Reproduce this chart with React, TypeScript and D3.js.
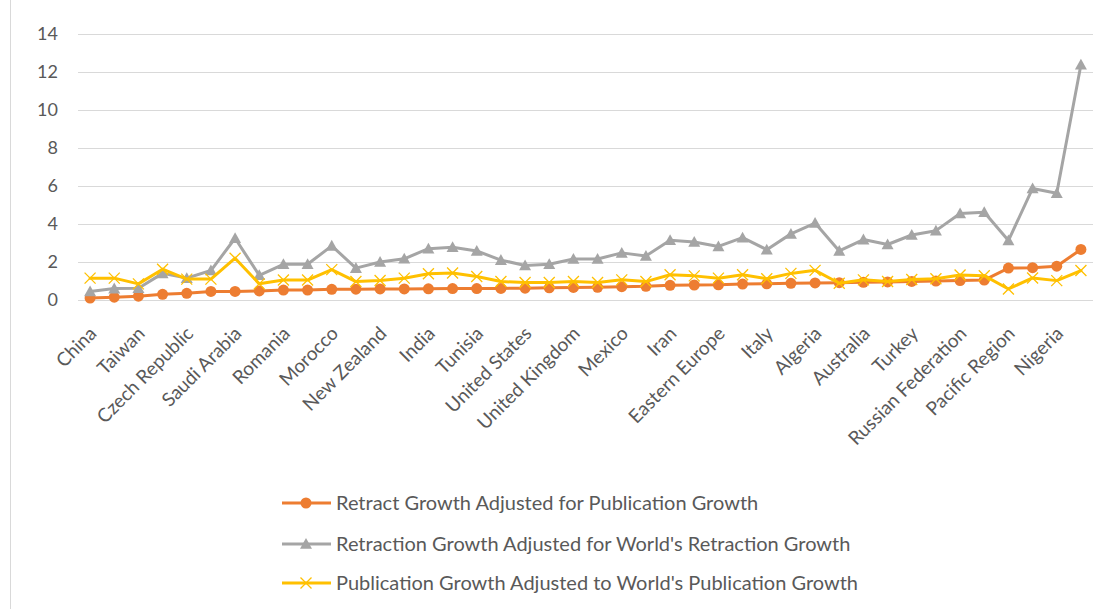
import React from "react";
import * as d3 from "d3";

const categories: string[] = [
  "China", "", "Taiwan", "", "Czech Republic", "", "Saudi Arabia", "", "Romania", "",
  "Morocco", "", "New Zealand", "", "India", "", "Tunisia", "", "United States", "",
  "United Kingdom", "", "Mexico", "", "Iran", "", "Eastern Europe", "", "Italy", "",
  "Algeria", "", "Australia", "", "Turkey", "", "Russian Federation", "", "Pacific Region", "",
  "Nigeria", "",
];

const retractAdjPub: number[] = [
  0.1, 0.15, 0.2, 0.3, 0.35, 0.45, 0.45, 0.48, 0.52, 0.52,
  0.56, 0.57, 0.58, 0.58, 0.59, 0.6, 0.6, 0.61, 0.62, 0.64,
  0.66, 0.67, 0.7, 0.72, 0.77, 0.79, 0.8, 0.84, 0.85, 0.88,
  0.9, 0.91, 0.93, 0.95, 0.98, 1.0, 1.02, 1.05, 1.68, 1.7,
  1.78, 2.66,
];

const retractAdjWorld: number[] = [
  0.45, 0.6, 0.62, 1.4, 1.15, 1.55, 3.25, 1.3, 1.88, 1.88,
  2.85, 1.68, 2.0, 2.17, 2.7, 2.78, 2.58, 2.1, 1.82, 1.88,
  2.16, 2.16, 2.48, 2.32, 3.15, 3.05, 2.82, 3.28, 2.65, 3.48,
  4.05, 2.58, 3.18, 2.92, 3.42, 3.65, 4.55, 4.62, 3.13, 5.87,
  5.62, 12.38,
];

const pubAdjWorld: number[] = [
  1.15, 1.15, 0.85, 1.62, 1.1, 1.1, 2.2, 0.85, 1.05, 1.05,
  1.6, 0.97, 1.03, 1.15, 1.38, 1.42, 1.24, 0.97, 0.92, 0.92,
  0.97, 0.92, 1.06, 0.97, 1.33, 1.27, 1.15, 1.33, 1.12, 1.4,
  1.56, 0.88, 1.06, 0.97, 1.08, 1.12, 1.32, 1.28, 0.58, 1.16,
  1.02, 1.55,
];

const yTicks: number[] = [0, 2, 4, 6, 8, 10, 12, 14];

const seriesNames: string[] = [
  "Retract Growth Adjusted for Publication Growth",
  "Retraction Growth Adjusted for World's Retraction Growth",
  "Publication Growth Adjusted to World's Publication Growth",
];

const W = 1114;
const H = 609;
const FONT = "Lato, 'Open Sans', sans-serif";
const TEXT = "#595959";

type Marker = "circle" | "triangle" | "x";

function MarkerShape({ kind, x, y, color }: { kind: Marker; x: number; y: number; color: string }) {
  if (kind === "circle") return <circle cx={x} cy={y} r={5.5} fill={color} />;
  if (kind === "triangle") {
    const s = 6;
    return <path d={`M${x},${y - s}L${x + s},${y + s * 0.8}L${x - s},${y + s * 0.8}Z`} fill={color} />;
  }
  const s = 5.5;
  return (
    <path d={`M${x - s},${y - s}L${x + s},${y + s}M${x - s},${y + s}L${x + s},${y - s}`} stroke={color} strokeWidth={1.3} fill="none" />
  );
}

export default function App() {
  const x = d3.scaleBand<number>().domain(categories.map((_, i) => i)).range([78, 1093]);
  const y = d3.scaleLinear().domain([0, 14]).range([300, 34]);
  const cx = (i: number) => (x(i) as number) + x.bandwidth() / 2;

  const series = [
    { name: seriesNames[0], values: retractAdjPub, color: "#ED7D31", marker: "circle" as Marker },
    { name: seriesNames[1], values: retractAdjWorld, color: "#A5A5A5", marker: "triangle" as Marker },
    { name: seriesNames[2], values: pubAdjWorld, color: "#FFC000", marker: "x" as Marker },
  ];

  const line = d3.line<number>().x((_, i) => cx(i)).y((d) => y(d));

  return (
    <svg width={W} height={H} style={{ position: "absolute", left: 0, top: 0, background: "#fff" }} fontFamily={FONT}>
      <rect x={0} y={0} width={W} height={H} fill="#fff" />
      <line x1={10.5} x2={10.5} y1={0} y2={H} stroke="#D9D9D9" strokeWidth={1} />
      {yTicks.map((t) => (
        <g key={t}>
          <line x1={78} x2={1093} y1={Math.round(y(t)) + 0.5} y2={Math.round(y(t)) + 0.5} stroke="#D9D9D9" strokeWidth={1} />
          <text x={58} y={y(t)} dy="0.36em" textAnchor="end" fontSize={18} fill={TEXT}>{t}</text>
        </g>
      ))}
      {categories.map((c, i) =>
        c ? (
          <text key={i} transform={`translate(${cx(i) + 3},${330}) rotate(-45)`} textAnchor="end" dy="0.35em" fontSize={19} fill={TEXT}>
            {c}
          </text>
        ) : null
      )}
      {series.map((s) => (
        <g key={s.name}>
          <path d={line(s.values) || ""} fill="none" stroke={s.color} strokeWidth={3} strokeLinejoin="round" strokeLinecap="round" />
          {s.values.map((v, i) => (
            <MarkerShape key={i} kind={s.marker} x={cx(i)} y={y(v)} color={s.color} />
          ))}
        </g>
      ))}
      {series.map((s, k) => {
        const ly = [503, 544, 583][k];
        return (
          <g key={"lg" + k}>
            <line x1={282} x2={331} y1={ly} y2={ly} stroke={s.color} strokeWidth={3} />
            <MarkerShape kind={s.marker} x={306} y={ly} color={s.color} />
            <text x={336} y={ly} dy="0.36em" fontSize={20} fill={TEXT}>{s.name}</text>
          </g>
        );
      })}
    </svg>
  );
}
